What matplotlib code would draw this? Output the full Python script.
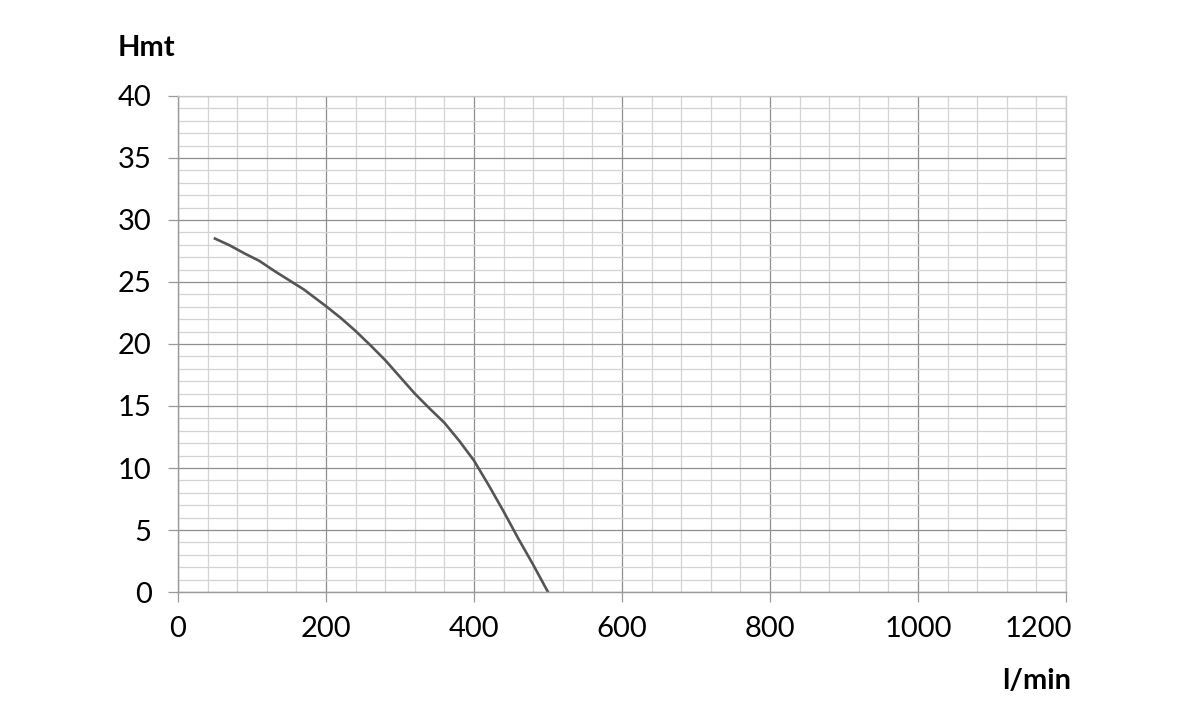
import matplotlib.pyplot as plt
import numpy as np
from matplotlib.ticker import MultipleLocator
from matplotlib.transforms import ScaledTranslation

# pump curve
flow = [50, 70, 90, 110, 130, 150, 170, 200, 220, 240, 260, 280, 300,
        320, 340, 360, 380, 400, 420, 440, 460, 480, 500]
head = [28.5, 27.95, 27.3, 26.7, 25.9, 25.15, 24.4, 23.05, 22.1, 21.05, 19.9, 18.7, 17.35,
        16.0, 14.8, 13.65, 12.2, 10.6, 8.6, 6.5, 4.3, 2.2, 0.0]

x_ticks = [0, 200, 400, 600, 800, 1000, 1200]
y_ticks = [0, 5, 10, 15, 20, 25, 30, 35, 40]

plt.rcParams['font.family'] = ['Lato', 'DejaVu Sans']

fig = plt.figure(figsize=(11.88, 7.21), dpi=100)
ax = fig.add_axes([0.1498, 0.1789, 0.7475, 0.688])

ax.set_xlim(0, 1200)
ax.set_ylim(0, 40)
ax.set_xticks(x_ticks)
ax.set_yticks(y_ticks)
ax.xaxis.set_minor_locator(MultipleLocator(40))
ax.yaxis.set_minor_locator(MultipleLocator(1))

ax.grid(which='minor', color='#d4d4d4', linewidth=0.9)
ax.grid(which='major', color='#8f8f8f', linewidth=0.9)
ax.set_axisbelow(True)

for side in ['left', 'bottom']:
    ax.spines[side].set_color('#9a9a9a')
    ax.spines[side].set_linewidth(1.0)
for side in ['top', 'right']:
    ax.spines[side].set_color('#c8c8c8')
    ax.spines[side].set_linewidth(0.9)

ax.tick_params(which='major', length=7, width=0.9, color='#9a9a9a',
               labelsize=21, pad=10)
ax.tick_params(axis='y', pad=12)
ax.tick_params(which='minor', length=0)

# last x label sits left of its tick, as in the original
last = ax.get_xticklabels()[-1]
last.set_ha('right')
last.set_transform(last.get_transform() + ScaledTranslation(0.06, 0, fig.dpi_scale_trans))

ax.plot(flow, head, color='#555555', linewidth=1.9)

fig.text(118 / 1188, 1 - 48 / 721, 'Hmt', fontsize=21, fontweight='bold',
         ha='left', va='center')
fig.text(1071 / 1188, 1 - 681 / 721, 'l/min', fontsize=21, fontweight='bold',
         ha='right', va='center')

fig.savefig('out.png', dpi=100)
